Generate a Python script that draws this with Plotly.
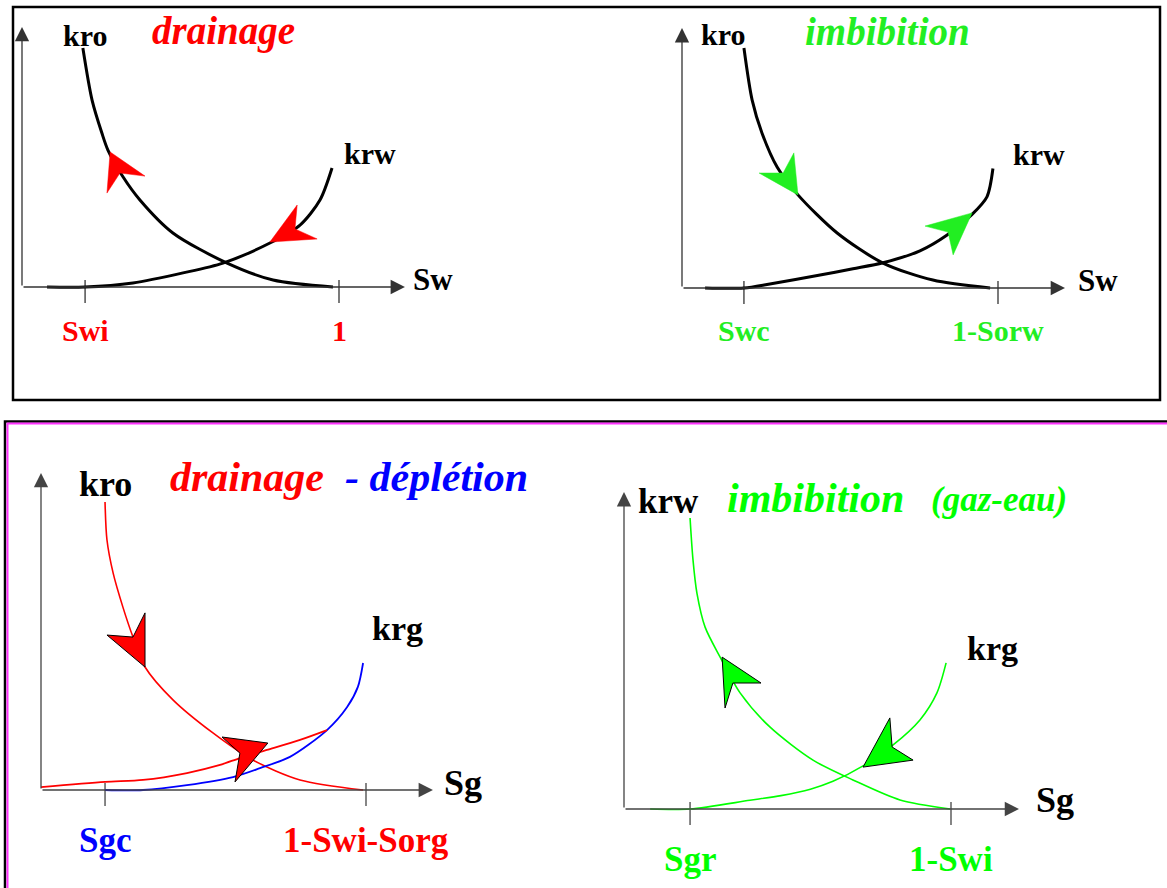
import plotly.graph_objects as go

W, H = 1167, 888

# ---------------- DATA (x = saturation, normalised; y = relative permeability, normalised) -------------
# Panel A : drainage (oil / water)
a_kro_x = [0.192, 0.221, 0.252, 0.271, 0.319, 0.372, 0.476, 0.647, 0.792, 0.981]
a_kro_y = [1.000, 0.782, 0.644, 0.573, 0.460, 0.364, 0.226, 0.100, 0.029, 0.000]
a_krw_x = [0.079, 0.199, 0.350, 0.508, 0.634, 0.782, 0.877, 0.940, 0.978]
a_krw_y = [0.000, 0.000, 0.017, 0.059, 0.100, 0.184, 0.259, 0.364, 0.498]
a_head1_x = [0.278, 0.268, 0.309, 0.388]
a_head1_y = [0.565, 0.393, 0.477, 0.464]
a_head2_x = [0.782, 0.868, 0.861, 0.931]
a_head2_y = [0.188, 0.343, 0.243, 0.201]
a_ticks = [0.199, 1.0]
a_ticklabels = ["Swi", "1"]

# Panel B : imbibition (oil / water)
b_kro_x = [0.196, 0.222, 0.253, 0.301, 0.367, 0.491, 0.636, 0.794, 0.975]
b_kro_y = [1.000, 0.783, 0.646, 0.504, 0.388, 0.229, 0.104, 0.033, 0.000]
b_krw_x = [0.073, 0.196, 0.278, 0.437, 0.541, 0.636, 0.753, 0.839, 0.918, 0.965, 0.984]
b_krw_y = [0.000, 0.000, 0.017, 0.054, 0.080, 0.105, 0.155, 0.221, 0.307, 0.380, 0.498]
b_head1_x = [0.367, 0.244, 0.320, 0.354]
b_head1_y = [0.388, 0.479, 0.479, 0.563]
b_head2_x = [0.918, 0.769, 0.842, 0.858]
b_head2_y = [0.313, 0.258, 0.233, 0.138]
b_ticks = [0.196, 1.0]
b_ticklabels = ["Swc", "1-Sorw"]

# Panel C : drainage - depletion (gas / oil)
c_kro_x = [0.197, 0.203, 0.222, 0.252, 0.283, 0.320, 0.406, 0.529, 0.652, 0.797, 0.991]
c_kro_y = [1.000, 0.868, 0.753, 0.635, 0.531, 0.427, 0.313, 0.198, 0.104, 0.035, 0.000]
c_krg_drain_x = [0.000, 0.197, 0.314, 0.449, 0.551, 0.612, 0.695, 0.797, 0.880]
c_krg_drain_y = [0.010, 0.028, 0.035, 0.059, 0.087, 0.111, 0.139, 0.174, 0.208]
c_krg_depl_x = [0.197, 0.314, 0.449, 0.591, 0.674, 0.766, 0.880, 0.942, 0.975, 0.991]
c_krg_depl_y = [0.000, 0.000, 0.017, 0.045, 0.076, 0.115, 0.208, 0.288, 0.358, 0.441]
c_head1_x = [0.320, 0.203, 0.283, 0.320]
c_head1_y = [0.427, 0.538, 0.531, 0.615]
c_head2_x = [0.698, 0.557, 0.612, 0.597]
c_head2_y = [0.163, 0.184, 0.128, 0.028]
c_ticks = [0.197, 1.0]
c_ticklabels = ["Sgc", "1-Swi-Sorg"]

# Panel D : imbibition (gas / water)
d_krw_x = [0.202, 0.211, 0.223, 0.248, 0.294, 0.355, 0.446, 0.578, 0.700, 0.844, 0.997]
d_krw_y = [1.000, 0.856, 0.742, 0.625, 0.522, 0.399, 0.282, 0.168, 0.100, 0.031, 0.000]
d_krg_x = [0.080, 0.202, 0.385, 0.480, 0.570, 0.639, 0.731, 0.823, 0.905, 0.957, 0.985]
d_krg_y = [0.000, 0.000, 0.030, 0.046, 0.068, 0.095, 0.148, 0.220, 0.306, 0.399, 0.502]
d_head1_x = [0.300, 0.419, 0.333, 0.309]
d_head1_y = [0.522, 0.433, 0.433, 0.347]
d_head2_x = [0.731, 0.813, 0.820, 0.884]
d_head2_y = [0.144, 0.313, 0.213, 0.168]
d_ticks = [0.202, 1.0]
d_ticklabels = ["Sgr", "1-Swi"]

# ---------------- LAYOUT (pixel placement of each panel's origin and scale) ----------------
RED, GREEN_T, GREEN_B, BLUE = "#ff0000", "#22ee22", "#00ff00", "#0000ff"
SERIF = "Liberation Serif"

panels = {
    1: dict(ox=22, oy=287, sx=317, sy=239, xtip=1.208, ytip=1.088),
    2: dict(ox=682, oy=288, sx=316, sy=240, xtip=1.212, ytip=1.083),
    3: dict(ox=41, oy=790, sx=325, sy=288, xtip=1.206, ytip=1.101),
    4: dict(ox=624, oy=809, sx=327, sy=291, xtip=1.208, ytip=1.089),
}

fig = go.Figure()
annotations = []


def ax_names(i):
    s = "" if i == 1 else str(i)
    return "x" + s, "y" + s


def curve(i, xs, ys, color, width):
    xr, yr = ax_names(i)
    fig.add_trace(go.Scatter(x=xs, y=ys, mode="lines", xaxis=xr, yaxis=yr,
                             line=dict(color=color, width=width, shape="spline", smoothing=0.8),
                             hoverinfo="skip"))


def head(i, xs, ys, color, outline, ow):
    xr, yr = ax_names(i)
    fig.add_trace(go.Scatter(x=xs + [xs[0]], y=ys + [ys[0]], mode="lines", fill="toself",
                             fillcolor=color, xaxis=xr, yaxis=yr,
                             line=dict(color=outline, width=ow), hoverinfo="skip"))


def axes_and_ticks(i, ticks, color="#333333"):
    p = panels[i]
    xr, yr = ax_names(i)
    for (x, y) in [(p["xtip"], 0), (0, p["ytip"])]:
        annotations.append(dict(xref=xr, yref=yr, axref=xr, ayref=yr, x=x, y=y, ax=0, ay=0,
                                text="", showarrow=True, arrowhead=2, arrowsize=2.2,
                                arrowwidth=1.3, arrowcolor=color, standoff=0))
    tx, ty = [], []
    up, dn = 7 / p["sy"], 16 / p["sy"]
    for t in ticks:
        tx += [t, t, None]
        ty += [up, -dn, None]
    fig.add_trace(go.Scatter(x=tx, y=ty, mode="lines", xaxis=xr, yaxis=yr,
                             line=dict(color=color, width=1.3), hoverinfo="skip"))


def label(i, x, y, text, color, size, italic=False):
    xr, yr = ax_names(i)
    annotations.append(dict(xref=xr, yref=yr, x=x, y=y, text=text, showarrow=False,
                            xanchor="center", yanchor="middle",
                            font=dict(family=SERIF, size=size, color=color, weight="bold",
                                      style="italic" if italic else "normal")))


# ---- Panel 1
axes_and_ticks(1, a_ticks)
curve(1, a_kro_x, a_kro_y, "black", 3)
curve(1, a_krw_x, a_krw_y, "black", 3)
head(1, a_head1_x, a_head1_y, RED, RED, 0.5)
head(1, a_head2_x, a_head2_y, RED, RED, 0.5)
label(1, 0.199, 1.054, "kro", "black", 30)
label(1, 0.637, 1.072, "drainage", RED, 39, italic=True)
label(1, 1.098, 0.560, "krw", "black", 30)
label(1, 1.297, 0.033, "Sw", "black", 31)
for t, s in zip(a_ticks, a_ticklabels):
    label(1, t, -0.18, s, RED, 30)

# ---- Panel 2
axes_and_ticks(2, b_ticks)
curve(2, b_kro_x, b_kro_y, "black", 3)
curve(2, b_krw_x, b_krw_y, "black", 3)
head(2, b_head1_x, b_head1_y, GREEN_T, GREEN_T, 0.5)
head(2, b_head2_x, b_head2_y, GREEN_T, GREEN_T, 0.5)
label(2, 0.130, 1.058, "kro", "black", 30)
label(2, 0.649, 1.068, "imbibition", GREEN_T, 39, italic=True)
label(2, 1.130, 0.558, "krw", "black", 30)
label(2, 1.316, 0.033, "Sw", "black", 31)
for t, s in zip(b_ticks, b_ticklabels):
    label(2, t, -0.175, s, GREEN_T, 30)

# ---- Panel 3
axes_and_ticks(3, c_ticks, "#444444")
curve(3, c_kro_x, c_kro_y, RED, 1.6)
curve(3, c_krg_depl_x, c_krg_depl_y, BLUE, 1.8)
curve(3, c_krg_drain_x, c_krg_drain_y, RED, 1.8)
head(3, c_head1_x, c_head1_y, RED, "black", 1)
head(3, c_head2_x, c_head2_y, RED, "black", 1)
label(3, 0.197, 1.062, "kro", "black", 36)
label(3, 0.634, 1.087, "drainage", RED, 42, italic=True)
label(3, 1.218, 1.087, "- déplétion", BLUE, 42, italic=True)
label(3, 1.098, 0.5625, "krg", "black", 34)
label(3, 1.298, 0.024, "Sg", "black", 36)
label(3, c_ticks[0], -0.174, c_ticklabels[0], BLUE, 35)
label(3, c_ticks[1], -0.174, c_ticklabels[1], RED, 35)

# ---- Panel 4
axes_and_ticks(4, d_ticks, "#444444")
curve(4, d_krw_x, d_krw_y, GREEN_B, 1.6)
curve(4, d_krg_x, d_krg_y, GREEN_B, 1.6)
head(4, d_head1_x, d_head1_y, GREEN_B, "black", 1)
head(4, d_head2_x, d_head2_y, GREEN_B, "black", 1)
label(4, 0.135, 1.058, "krw", "black", 35)
label(4, 0.587, 1.069, "imbibition", GREEN_B, 42, italic=True)
label(4, 1.147, 1.062, "(gaz-eau)", GREEN_B, 35, italic=True)
label(4, 1.128, 0.553, "krg", "black", 34)
label(4, 1.318, 0.031, "Sg", "black", 36)
for t, s in zip(d_ticks, d_ticklabels):
    label(4, t, -0.175, s, GREEN_B, 35)

# ---- axes (hidden, calibrated so that each panel lands at its pixel place)
layout_axes = {}
for i, p in panels.items():
    s = "" if i == 1 else str(i)
    xr, yr = ax_names(i)
    layout_axes["xaxis" + s] = dict(visible=False, domain=[0, 1], anchor=yr, fixedrange=True,
                                    range=[-p["ox"] / p["sx"], (W - p["ox"]) / p["sx"]])
    layout_axes["yaxis" + s] = dict(visible=False, domain=[0, 1], anchor=xr, fixedrange=True,
                                    range=[-(H - p["oy"]) / p["sy"], p["oy"] / p["sy"]])


def px_rect(x0, y0, x1, y1, color, width):
    return dict(type="rect", xref="paper", yref="paper",
                x0=x0 / W, x1=x1 / W, y0=1 - y0 / H, y1=1 - y1 / H,
                line=dict(color=color, width=width), fillcolor="rgba(0,0,0,0)", layer="above")


shapes = [
    px_rect(13, 7, 1160, 400, "black", 2.5),
    px_rect(5, 421.5, 1180, 900, "black", 2.5),
    px_rect(7.5, 423.5, 1180, 900, "#ff33ff", 2),
]

fig.update_layout(width=W, height=H, margin=dict(l=0, r=0, t=0, b=0),
                  paper_bgcolor="white", plot_bgcolor="rgba(0,0,0,0)", showlegend=False,
                  annotations=annotations, shapes=shapes, **layout_axes)

fig.write_html("out.html", config={"displayModeBar": False},
               post_script="document.body.style.margin='0';document.body.style.overflow='hidden';")
